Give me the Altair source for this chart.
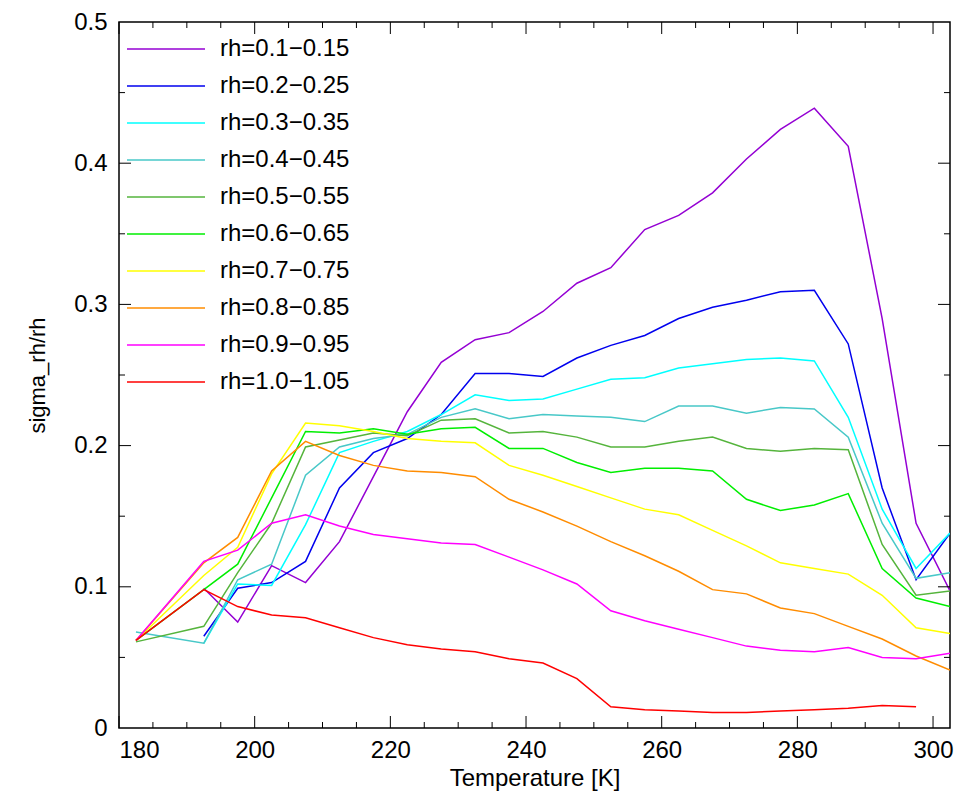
import altair as alt
import pandas as pd

temps = [182.5, 192.5, 197.5, 202.5, 207.5, 212.5, 217.5, 222.5, 227.5, 232.5, 237.5, 242.5,
         247.5, 252.5, 257.5, 262.5, 267.5, 272.5, 277.5, 282.5, 287.5, 292.5, 297.5, 302.5]

labels = ["rh=0.1\u22120.15", "rh=0.2\u22120.25", "rh=0.3\u22120.35", "rh=0.4\u22120.45", "rh=0.5\u22120.55",
          "rh=0.6\u22120.65", "rh=0.7\u22120.75", "rh=0.8\u22120.85", "rh=0.9\u22120.95", "rh=1.0\u22121.05"]
colors = ["#9400d3", "#0000ee", "#00ffff", "#48c8c8", "#55b43c",
          "#00ee00", "#ffff00", "#ff8c00", "#ff00ff", "#ff0000"]

# None = no value at that temperature
s01 = [None, 0.099, 0.075, 0.115, 0.103, 0.132, 0.178, 0.224, 0.259, 0.275, 0.280, 0.295,
       0.315, 0.326, 0.353, 0.363, 0.379, 0.403, 0.424, 0.439, 0.412, 0.290, 0.145, 0.097]
s02 = [None, 0.065, 0.099, 0.103, 0.118, 0.170, 0.195, 0.205, 0.222, 0.251, 0.251, 0.249,
       0.262, 0.271, 0.278, 0.290, 0.298, 0.303, 0.309, 0.310, 0.272, 0.170, 0.105, 0.138]
s03 = [None, 0.060, 0.102, 0.101, 0.144, 0.195, 0.203, 0.210, 0.222, 0.236, 0.232, 0.233,
       0.240, 0.247, 0.248, 0.255, 0.258, 0.261, 0.262, 0.260, 0.220, 0.155, 0.113, 0.138]
s04 = [0.068, 0.060, 0.105, 0.116, 0.179, 0.199, 0.205, 0.208, 0.220, 0.226, 0.219, 0.222,
       0.221, 0.220, 0.217, 0.228, 0.228, 0.223, 0.227, 0.226, 0.206, 0.145, 0.106, 0.110]
s05 = [0.061, 0.072, 0.110, 0.145, 0.199, 0.204, 0.209, 0.207, 0.218, 0.219, 0.209, 0.210,
       0.206, 0.199, 0.199, 0.203, 0.206, 0.198, 0.196, 0.198, 0.197, 0.130, 0.094, 0.097]
s06 = [0.062, 0.098, 0.116, 0.163, 0.210, 0.209, 0.212, 0.208, 0.212, 0.213, 0.198, 0.198,
       0.188, 0.181, 0.184, 0.184, 0.182, 0.162, 0.154, 0.158, 0.166, 0.113, 0.092, 0.086]
s07 = [0.062, 0.108, 0.128, 0.180, 0.216, 0.214, 0.210, 0.205, 0.203, 0.202, 0.186, 0.179,
       0.171, 0.163, 0.155, 0.151, 0.140, 0.129, 0.117, 0.113, 0.109, 0.094, 0.071, 0.067]
s08 = [0.062, 0.117, 0.135, 0.182, 0.203, 0.193, 0.186, 0.182, 0.181, 0.178, 0.162, 0.153,
       0.143, 0.132, 0.122, 0.111, 0.098, 0.095, 0.085, 0.081, 0.072, 0.063, 0.051, 0.041]
s09 = [0.062, 0.118, 0.126, 0.145, 0.151, 0.143, 0.137, 0.134, 0.131, 0.130, 0.121, 0.112,
       0.102, 0.083, 0.076, 0.070, 0.064, 0.058, 0.055, 0.054, 0.057, 0.050, 0.049, 0.053]
s10 = [0.062, 0.098, 0.086, 0.080, 0.078, 0.071, 0.064, 0.059, 0.056, 0.054, 0.049, 0.046,
       0.035, 0.015, 0.013, 0.012, 0.011, 0.011, 0.012, 0.013, 0.014, 0.016, 0.015, None]

x_major = [180, 200, 220, 240, 260, 280, 300]
x_minor = [185, 190, 195, 205, 210, 215, 225, 230, 235, 245, 250, 255, 265, 270, 275, 285, 290, 295]
y_major = [0.1, 0.2, 0.3, 0.4]
y_minor = [0.05, 0.15, 0.25, 0.35, 0.45]

W, H = 831, 706
FONT = "Liberation Sans"

rows = []
for lab, series in zip(labels, [s01, s02, s03, s04, s05, s06, s07, s08, s09, s10]):
    for t, v in zip(temps, series):
        if v is not None:
            rows.append({"T": t, "v": v, "rh": lab})
df = pd.DataFrame(rows)

xs = alt.Scale(domain=[180, 302.5], nice=False, zero=False)
ys = alt.Scale(domain=[0, 0.5], nice=False)

lines = alt.Chart(df).mark_line(strokeWidth=1.5, clip=True).encode(
    x=alt.X("T:Q", scale=xs, title="Temperature [K]",
            axis=alt.Axis(values=x_major, grid=False, tickSize=0, domain=False, labelPadding=10,
                          labelFontSize=24, titleFontSize=24, titleFontWeight="normal",
                          labelFont=FONT, titleFont=FONT, labelColor="black", titleColor="black",
                          titlePadding=4)),
    y=alt.Y("v:Q", scale=ys, title="sigma_rh/rh",
            axis=alt.Axis(values=[0, 0.1, 0.2, 0.3, 0.4, 0.5], grid=False, tickSize=0, domain=False,
                          labelPadding=12, labelFontSize=24, titleFontSize=22, titleFontWeight="normal",
                          labelFont=FONT, titleFont=FONT, labelColor="black", titleColor="black",
                          labelExpr="datum.value == 0 ? '0' : format(datum.value, '.1f')",
                          titlePadding=24)),
    color=alt.Color("rh:N", scale=alt.Scale(domain=labels, range=colors), sort=labels,
                    legend=alt.Legend(title=None, orient="none", legendX=35, legendY=15,
                                      symbolType="M-7.8,0H7.8", symbolSize=100, symbolStrokeWidth=1.5,
                                      labelFontSize=24, labelFont=FONT, labelColor="black",
                                      rowPadding=13, labelOffset=42)),
)

def ticks(vals, axis, size):
    d = pd.DataFrame({"p": vals})
    if axis == "x":
        base = alt.Chart(d).mark_rule(color="black", strokeWidth=1).encode(x=alt.X("p:Q", scale=xs))
        return (base.encode(y=alt.value(H - size), y2=alt.value(H))
                + base.encode(y=alt.value(0), y2=alt.value(size)))
    base = alt.Chart(d).mark_rule(color="black", strokeWidth=1).encode(y=alt.Y("p:Q", scale=ys))
    return (base.encode(x=alt.value(0), x2=alt.value(size))
            + base.encode(x=alt.value(W - size), x2=alt.value(W)))

chart = alt.layer(
    lines,
    ticks(x_major, "x", 12), ticks(x_minor, "x", 6),
    ticks(y_major, "y", 12), ticks(y_minor, "y", 6),
).properties(
    width=W, height=H, padding={"left": 18, "top": 2, "right": 2, "bottom": 2}
).configure_view(stroke="black", strokeWidth=1.5)

chart.save("out.html", embed_options={"renderer": "svg", "actions": False})
